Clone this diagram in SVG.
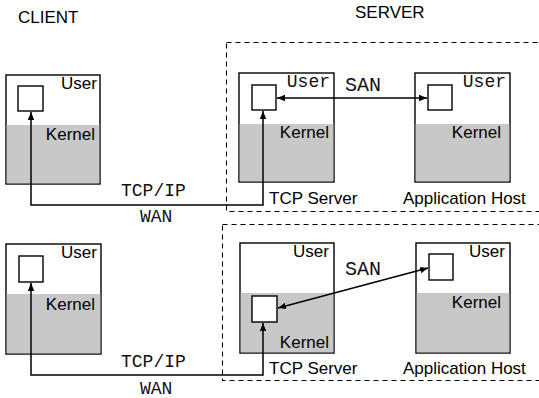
<svg xmlns="http://www.w3.org/2000/svg" width="539" height="398" viewBox="0 0 539 398">
<style>
.box{fill:#fff;stroke:#000;stroke-width:1.4}
.kern{fill:#c8c8c8}
.sq{fill:#fff;stroke:#000;stroke-width:1.4}
.dash{fill:none;stroke:#000;stroke-width:1.1;stroke-dasharray:5 4}
.sans{font-family:"Liberation Sans",Arial,sans-serif;font-size:17px;fill:#000}
.mono{font-family:"Liberation Mono","Courier New",monospace;font-size:18px;fill:#111}
.big{font-size:20px}
.conn{fill:none;stroke:#000;stroke-width:1.5}
</style>
<defs>
<marker id="ah" viewBox="0 0 10 10" refX="10" refY="5" markerWidth="8" markerHeight="8" markerUnits="userSpaceOnUse" orient="auto-start-reverse">
<path d="M0,1 L10,5 L0,9 z" fill="#000"/>
</marker>
</defs>
<text class="sans" x="18" y="23">CLIENT</text>
<text class="sans" x="355" y="18">SERVER</text>

<g id="server-top-group"><rect class="dash" x="226.5" y="42.5" width="320" height="169"/></g>
<g id="server-bottom-group"><rect class="dash" x="222.5" y="224.5" width="324" height="156"/></g>

<g id="client-top">
<rect class="box" x="6" y="75" width="94" height="109"/>
<rect class="kern" x="6.7" y="125" width="92.6" height="58.3"/>
<rect class="sq" x="18" y="86" width="25" height="25"/>
<text class="sans" x="97" y="89" text-anchor="end">User</text>
<text class="sans" x="95" y="140" text-anchor="end">Kernel</text>
</g>
<g id="tcp-server-top">
<rect class="box" x="239" y="73" width="95" height="109"/>
<rect class="kern" x="239.7" y="124" width="93.6" height="57.3"/>
<rect class="sq" x="252" y="85" width="24" height="25"/>
<text class="mono" x="330" y="87" text-anchor="end">User</text>
<text class="sans" x="329" y="138" text-anchor="end">Kernel</text>
<text class="sans" x="269" y="204">TCP Server</text>
</g>
<g id="app-host-top">
<rect class="box" x="415" y="73" width="95" height="109"/>
<rect class="kern" x="415.7" y="124" width="93.6" height="57.3"/>
<rect class="sq" x="428" y="85" width="24" height="25"/>
<text class="mono" x="506" y="87" text-anchor="end">User</text>
<text class="sans" x="501" y="138" text-anchor="end">Kernel</text>
<text class="sans" x="403" y="204">Application Host</text>
</g>

<g id="client-bottom">
<rect class="box" x="6" y="244" width="95" height="110"/>
<rect class="kern" x="6.7" y="294" width="93.6" height="59.3"/>
<rect class="sq" x="19" y="256" width="24" height="26"/>
<text class="sans" x="97" y="258" text-anchor="end">User</text>
<text class="sans" x="95" y="310" text-anchor="end">Kernel</text>
</g>
<g id="tcp-server-bottom">
<rect class="box" x="240" y="243" width="94" height="110"/>
<rect class="kern" x="240.7" y="293" width="92.6" height="59.3"/>
<rect class="sq" x="252" y="296" width="25" height="26"/>
<text class="sans" x="329" y="257" text-anchor="end">User</text>
<text class="sans" x="329" y="348" text-anchor="end">Kernel</text>
<text class="sans" x="269" y="374">TCP Server</text>
</g>
<g id="app-host-bottom">
<rect class="box" x="416" y="243" width="94" height="110"/>
<rect class="kern" x="416.7" y="293" width="92.6" height="59.3"/>
<rect class="sq" x="429" y="254" width="24" height="26"/>
<text class="sans" x="505" y="257" text-anchor="end">User</text>
<text class="sans" x="501" y="308" text-anchor="end">Kernel</text>
<text class="sans" x="403" y="374">Application Host</text>
</g>

<g id="connectors">
<path class="conn" d="M263,111 L263,205 L31,205 L31,112" marker-start="url(#ah)" marker-end="url(#ah)"/>
<path class="conn" d="M277,98 L427,98" marker-start="url(#ah)" marker-end="url(#ah)"/>
<text class="mono" x="121" y="196">TCP/IP</text>
<text class="mono" x="140" y="222">WAN</text>
<text class="mono big" x="345" y="91">SAN</text>

<path class="conn" d="M263,323 L263,375 L31,375 L31,283" marker-start="url(#ah)" marker-end="url(#ah)"/>
<path class="conn" d="M278,308 L428,268" marker-start="url(#ah)" marker-end="url(#ah)"/>
<text class="mono" x="121" y="367">TCP/IP</text>
<text class="mono" x="140" y="394">WAN</text>
<text class="mono big" x="345" y="275">SAN</text>
</g>
</svg>
